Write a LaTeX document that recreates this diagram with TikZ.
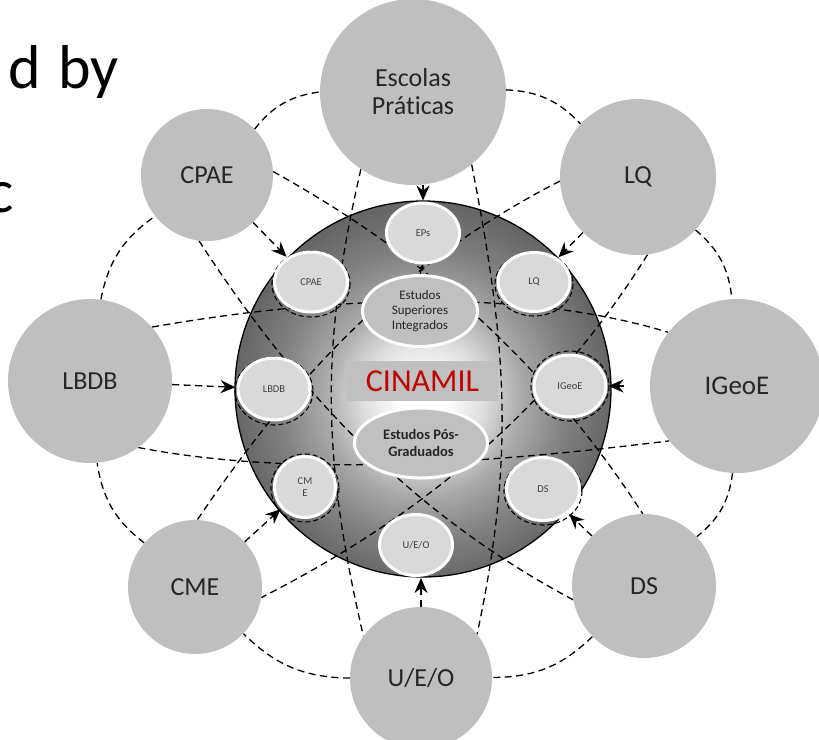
\documentclass[tikz,border=0pt]{standalone}
\usepackage{fontspec}
\setmainfont{Carlito}[Ligatures=NoCommon]
\usetikzlibrary{shapes.geometric,arrows.meta}
\definecolor{outerc}{HTML}{BFBFBF}
\definecolor{innerc}{HTML}{D9D9D9}
\definecolor{midc}{HTML}{C0C0C0}
\definecolor{cinred}{HTML}{C00000}
\definecolor{txtc}{HTML}{262626}
\pgfdeclareradialshading{sph}{\pgfpoint{0bp}{-1.5bp}}{color(0bp)=(white); color(3bp)=(white); color(8bp)=(black!13); color(13bp)=(black!33); color(19bp)=(black!49); color(25bp)=(black!60); color(50bp)=(black!60)}
\pgfdeclarelayer{bg}
\pgfdeclarelayer{mid}
\pgfsetlayers{bg,mid,main}
\begin{document}
\begin{tikzpicture}[x=1pt,y=-1pt,
  big/.style={circle, fill=outerc, inner sep=0pt, align=center, text=txtc,
    font=\fontsize{26}{30}\selectfont},
  small/.style={ellipse, fill=innerc, draw=white, line width=3pt, inner sep=0pt,
    align=center, text=black!75, font=\fontsize{10.5}{12}\selectfont},
  study/.style={ellipse, fill=midc, draw=white, line width=3pt, inner sep=0pt,
    align=center, text=txtc},
  web/.style={line width=1.3pt, dash pattern=on 7pt off 4.5pt},
  outl/.style={line width=1.1pt, dash pattern=on 5pt off 3pt},
  arr/.style={web, -{Stealth[length=15pt,width=13pt,inset=5pt]}, shorten >=1pt},
  tinyarr/.style={line width=0.8pt, -{Stealth[length=5pt,width=6pt]}},
  big text/.style={font=\fontsize{62}{72}\selectfont, inner sep=0pt, text=black}
]
\useasboundingbox (0,0) rectangle (819,739);

% partial heading text
\node[big text, anchor=base east] (hdA) at (119,88) {d\hspace{3pt} by};
\node[big text, anchor=base east] (hdB) at (14,212) {c};

% sphere
\begin{pgfonlayer}{bg}
\node[circle, minimum size=376pt, inner sep=0pt, shading=sph, draw=black, line width=1.3pt] (sphere) at (423,389) {};
\end{pgfonlayer}

% outer circles
\node[big, minimum size=186pt] (escolas) at (413,92) {Escolas\\[-2pt]Práticas};
\node[big, minimum size=156pt] (lq) at (638,177) {LQ};
\node[big, minimum size=174pt, font=\fontsize{27}{30}\selectfont] (igeoe) at (737,386) {IGeoE};
\node[big, minimum size=144pt] (ds) at (644,586) {DS};
\node[big, minimum size=142pt] (ueo) at (421,678) {U/E/O};
\node[big, minimum size=134pt] (cme) at (195,587) {CME};
\node[big, minimum size=164pt] (lbdb) at (90,381) {LBDB};
\node[big, minimum size=132pt] (cpae) at (207,175) {CPAE};

% inner ellipses
\node[small, minimum width=73pt, minimum height=60pt] (eps) at (423,233) {EPs};
\node[small, minimum width=73pt, minimum height=60pt] (cpaes) at (311,282) {CPAE};
\node[small, minimum width=72pt, minimum height=59pt] (lqs) at (534,282) {LQ};
\node[small, minimum width=72pt, minimum height=62pt] (lbdbs) at (274,389) {LBDB};
\node[small, minimum width=72pt, minimum height=62pt] (igeoes) at (570,386) {IGeoE};
\node[small, minimum width=61pt, minimum height=61pt] (cmes) at (305,487) {CM\\E};
\node[small, minimum width=73pt, minimum height=63pt] (dss) at (543,489) {DS};
\node[small, minimum width=73pt, minimum height=61pt] (ueos) at (416,545) {U/E/O};
\node[study, minimum width=115pt, minimum height=71pt, font=\fontsize{13}{15}\selectfont] (estsup) at (420,311) {Estudos\\Superiores\\Integrados};
\node[study, minimum width=133pt, minimum height=70pt, font=\bfseries\fontsize{14.5}{17}\selectfont] (estpos) at (421,443) {Estudos Pós-\\Graduados};
\node[rectangle, fill=midc, minimum width=151pt, minimum height=40pt, inner sep=0pt, text=cinred, font=\fontsize{32}{36}\selectfont] (cinamil) at (422.5,381) {CINAMIL};

% web of dashed curves
\begin{pgfonlayer}{mid}
% vertical pair
\draw[web] (escolas.236) to[out=257, in=103] (ueo.144);
\draw[web] (escolas.309) to[out=281, in=78] (ueo.38);
% horizontal pair
\draw[web] (lbdb.41) to[out=10, in=163, looseness=0.8] (igeoe.142);
\draw[web] (lbdb.306) to[out=-11, in=187, looseness=0.8] (igeoe.219);
% diagonal CPAE - DS
\draw[web] (cpae.3) to[out=-29, in=123, looseness=0.9] (ds.91);
\draw[web] (cpae.263) to[out=-57, in=152, looseness=0.9] (ds.191);
% diagonal LQ - CME
\draw[web] (lq.183) to[out=207, in=56, looseness=0.9] (cme.88);
\draw[web] (lq.277) to[out=238, in=27, looseness=0.9] (cme.351);
% outer ring
\foreach \a/\b in {escolas/lq, lq/igeoe, igeoe/ds, ds/ueo, ueo/cme, cme/lbdb, lbdb/cpae, cpae/escolas}{
  \draw[web] (\a) to[bend left=22] (\b);
}
% dashed outlines behind the small ellipses
\draw[outl] (311,284) ellipse [x radius=39, y radius=33];
\draw[outl] (534,284) ellipse [x radius=39, y radius=32];
\draw[outl] (274,391) ellipse [x radius=39, y radius=34];
\draw[outl] (570,386) ellipse [x radius=39, y radius=35];
\draw[outl] (305,488) ellipse [x radius=34, y radius=34];
\draw[outl] (543,491) ellipse [x radius=39, y radius=34];
\end{pgfonlayer}

% arrows
\draw[arr] (eps.north |- escolas.south) -- (eps.north);
\draw[arr] (cpae) -- (cpaes);
\draw[arr] (lq) -- (lqs);
\draw[arr] (lbdb) -- (lbdbs);
\draw[arr, shorten <=26pt] (igeoe) -- (igeoe.west -| igeoes.east);
\draw[arr] (cme) -- (cmes);
\draw[arr] (ds) -- (dss);
\draw[arr] (ueo.north) -- (ueo.north |- ueos.south);
\draw[tinyarr] (estsup.north) -- (eps.south);
\end{tikzpicture}
\end{document}
